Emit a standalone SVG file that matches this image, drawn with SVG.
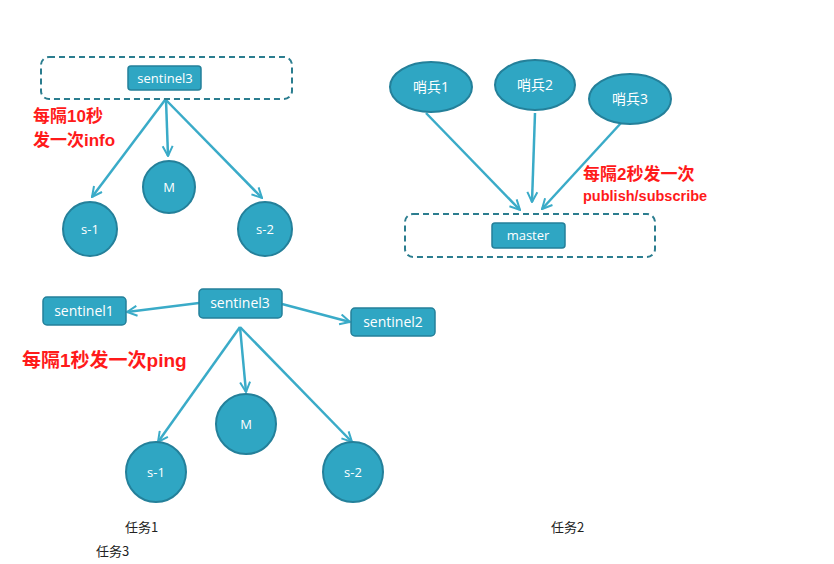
<svg xmlns="http://www.w3.org/2000/svg" width="834" height="564" viewBox="0 0 834 564">
<style>
.n{fill:#2fa6c3;stroke:#24809a;stroke-width:2}
.b{fill:#2fa6c3;stroke:#24809a;stroke-width:1.5}
.d{fill:none;stroke:#2b7d8f;stroke-width:2;stroke-dasharray:6 4}
.t{fill:#fff;font-family:"Open Sans","Liberation Sans","Noto Sans CJK SC",sans-serif;font-size:13px;text-anchor:middle}
.l{font-size:14px}
.r{fill:#ff1a1a;font-family:"Liberation Sans","Noto Sans CJK SC",sans-serif;font-weight:bold}
.k{fill:#222;font-family:"Noto Sans CJK SC",sans-serif;font-size:13px}
.c line{stroke:#3aabc8;stroke-width:2.5;marker-end:url(#a)}
</style>
<defs>
<marker id="a" viewBox="0 0 10 10" refX="9" refY="5" markerWidth="5" markerHeight="5" orient="auto" markerUnits="strokeWidth">
<path d="M1,1 L9,5 L1,9" fill="none" stroke="#3aabc8" stroke-width="1.6"/>
</marker>
</defs>
<g id="connectors" class="c">
<line x1="165" y1="100" x2="92" y2="197"/>
<line x1="166" y1="100" x2="168" y2="156"/>
<line x1="166" y1="100" x2="262" y2="198"/>
<line x1="426" y1="113" x2="520" y2="210"/>
<line x1="535" y1="113" x2="532" y2="202"/>
<line x1="621" y1="123" x2="542" y2="209"/>
<line x1="199" y1="303" x2="127" y2="312"/>
<line x1="282" y1="304" x2="350" y2="322"/>
<line x1="240" y1="327" x2="158" y2="442"/>
<line x1="240" y1="327" x2="246" y2="392"/>
<line x1="240" y1="327" x2="352" y2="442"/>
</g>
<g id="task1-frame"><rect class="d" x="41" y="57" width="251" height="42" rx="8"/></g>
<g id="t1-sentinel3"><rect class="b" x="128" y="66" width="73" height="24" rx="3"/><text class="t" x="165" y="83">sentinel3</text></g>
<g id="t1-M"><circle class="n" cx="169" cy="187" r="26"/><text class="t" x="169" y="192">M</text></g>
<g id="t1-s1"><circle class="n" cx="90" cy="229" r="27"/><text class="t" x="90" y="234">s-1</text></g>
<g id="t1-s2"><circle class="n" cx="265" cy="229" r="27"/><text class="t" x="265" y="234">s-2</text></g>
<text class="r" x="33" y="122" font-size="17">每隔10秒</text>
<text class="r" x="33" y="146" font-size="17">发一次info</text>
<g id="task2-frame"><rect class="d" x="405" y="214" width="250" height="43" rx="8"/></g>
<g id="t2-master"><rect class="b" x="492" y="223" width="73" height="25" rx="3"/><text class="t" x="528" y="240">master</text></g>
<g id="t2-s1"><ellipse class="n" cx="431" cy="87" rx="41" ry="25"/><text class="t l" x="431" y="92">哨兵1</text></g>
<g id="t2-s2"><ellipse class="n" cx="535" cy="85" rx="40" ry="25"/><text class="t l" x="535" y="90">哨兵2</text></g>
<g id="t2-s3"><ellipse class="n" cx="630" cy="99" rx="41" ry="25"/><text class="t l" x="630" y="104">哨兵3</text></g>
<text class="r" x="583" y="180" font-size="17">每隔2秒发一次</text>
<text class="r" x="583" y="201" font-size="14.5">publish/subscribe</text>
<g id="t3-sentinel3"><rect class="b" x="199" y="289" width="83" height="29" rx="4"/><text class="t l" x="240" y="308">sentinel3</text></g>
<g id="t3-sentinel1"><rect class="b" x="43" y="297" width="83" height="28" rx="4"/><text class="t l" x="84" y="316">sentinel1</text></g>
<g id="t3-sentinel2"><rect class="b" x="351" y="308" width="84" height="28" rx="4"/><text class="t l" x="393" y="327">sentinel2</text></g>
<g id="t3-M"><circle class="n" cx="246" cy="424" r="30"/><text class="t" x="246" y="429">M</text></g>
<g id="t3-s1"><circle class="n" cx="156" cy="472" r="30"/><text class="t" x="156" y="477">s-1</text></g>
<g id="t3-s2"><circle class="n" cx="353" cy="472" r="30"/><text class="t" x="353" y="477">s-2</text></g>
<text class="r" x="22" y="367" font-size="19">每隔1秒发一次ping</text>
<text class="k" x="125" y="532">任务1</text>
<text class="k" x="551" y="532">任务2</text>
<text class="k" x="96" y="556">任务3</text>
</svg>
